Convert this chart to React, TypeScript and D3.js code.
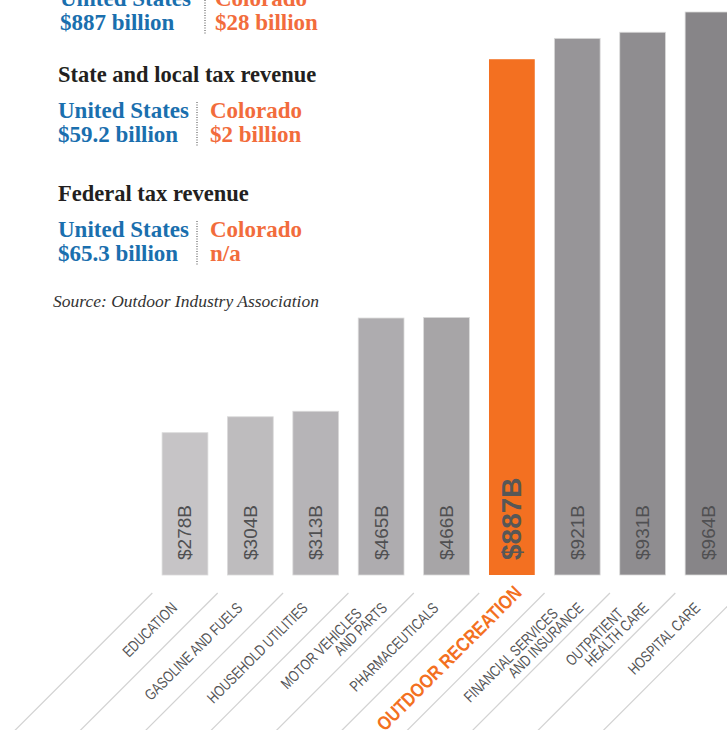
import React from "react";
import * as d3 from "d3";

// ---- Data ----
const categories = [
  "EDUCATION",
  "GASOLINE AND FUELS",
  "HOUSEHOLD UTILITIES",
  "MOTOR VEHICLES|AND PARTS",
  "PHARMACEUTICALS",
  "OUTDOOR RECREATION",
  "FINANCIAL SERVICES|AND INSURANCE",
  "OUTPATIENT|HEALTH CARE",
  "HOSPITAL CARE",
];
const values = [278, 304, 313, 465, 466, 887, 921, 931, 964];
const valueLabels = ["$278B", "$304B", "$313B", "$465B", "$466B", "$887B", "$921B", "$931B", "$964B"];
const highlight = "OUTDOOR RECREATION";

const headings = ["", "State and local tax revenue", "Federal tax revenue"];
const usLabel = "United States";
const coLabel = "Colorado";
const usValues = ["$887 billion", "$59.2 billion", "$65.3 billion"];
const coValues = ["$28 billion", "$2 billion", "n/a"];
const sourceText = "Source: Outdoor Industry Association";

const W = 727;
const H = 730;

export default function App() {
  const x = d3
    .scaleBand<string>()
    .domain(categories)
    .range([152.3, 740.7])
    .paddingInner(0.3)
    .paddingOuter(0.15);
  const y = d3.scaleLinear().domain([46, 964]).range([575, 12]);
  const grayIdx = d3.scaleLinear().domain([0, categories.length - 1]).range([0, 1]);
  const gray = d3.interpolateRgb("#c6c4c6", "#878588");

  const step = x.step();
  const boundaries = categories.map((c) => (x(c) as number) - step * 0.15);
  boundaries.push((x(categories[categories.length - 1]) as number) + step * 0.85);

  const serif = "'Liberation Serif', 'Times New Roman', serif";
  const sans = "'Liberation Sans', Arial, Helvetica, sans-serif";

  const blue = "#1a6fae";
  const orange = "#f26c3c";

  return (
    <svg width={W} height={H} style={{ position: "absolute", left: 0, top: 0, background: "#fff" }}>
      {/* diagonal separators */}
      {boundaries.map((b, i) => (
        <line key={"d" + i} x1={b} y1={593} x2={b - 160} y2={753} stroke="#d2d2d2" strokeWidth={1.2} />
      ))}

      {/* bars */}
      {categories.map((c, i) => {
        const isH = c === highlight;
        return (
          <rect
            key={"b" + i}
            x={x(c)}
            y={y(values[i])}
            width={x.bandwidth()}
            height={y(46) - y(values[i])}
            fill={isH ? "#f37021" : gray(grayIdx(i))}
            stroke={isH ? "none" : "#dadada"}
            strokeWidth={0.8}
          />
        );
      })}

      {/* value labels */}
      {categories.map((c, i) => {
        const isH = c === highlight;
        const cx = (x(c) as number) + x.bandwidth() / 2;
        return (
          <text
            key={"v" + i}
            transform={`translate(${cx},560) rotate(-90)`}
            textAnchor="start"
            dominantBaseline="central"
            fontFamily={sans}
            fontSize={isH ? 28 : 19}
            fontWeight={isH ? "bold" : "normal"}
            fill={isH ? "#575757" : "#505052"}
          >
            {valueLabels[i]}
          </text>
        );
      })}

      {/* category labels */}
      {categories.map((c, i) => {
        const isH = c === highlight;
        const cx = (x(c) as number) + x.bandwidth() / 2;
        const lines = c.split("|");
        const n = lines.length;
        const ax = isH ? cx + 11 : n > 1 ? cx + 7 : cx - 7;
        const ay = isH ? 594 : 609;
        return (
          <g key={"l" + i} transform={`translate(${ax},${ay}) rotate(-45)`}>
            {lines.map((ln, j) => {
              const k = n - 1 - j;
              return (
                <text
                  key={j}
                  transform={`translate(${-22 * k},${-14 * k}) scale(${isH ? 0.84 : 0.77},1)`}
                  textAnchor="end"
                  fontFamily={sans}
                  fontSize={isH ? 19.5 : 15.5}
                  fontWeight={isH ? "bold" : "normal"}
                  fill={isH ? "#f37021" : "#545456"}
                >
                  {ln}
                </text>
              );
            })}
          </g>
        );
      })}

      {/* top-left text blocks */}
      {headings.map((h, g) => {
        const l1 = g === 0 ? 6 : 118 + (g - 1) * 119;
        const hb = l1 - 36;
        const l2 = l1 + 24;
        const usX = g === 0 ? 60 : 58;
        const sepX = g === 0 ? 205 : 197;
        const coX = g === 0 ? 215 : 210;
        return (
          <g key={"g" + g}>
            {h && (
              <text x={58} y={hb} fontFamily={serif} fontWeight="bold" fontSize={22.5} fill="#231f20">
                {h}
              </text>
            )}
            <text x={usX} y={l1} fontFamily={serif} fontWeight="bold" fontSize={23} fill={blue}>
              {usLabel}
            </text>
            <text x={usX} y={l2} fontFamily={serif} fontWeight="bold" fontSize={23} fill={blue}>
              {usValues[g]}
            </text>
            <line
              x1={sepX}
              x2={sepX}
              y1={l1 - 16}
              y2={l2 + 4}
              stroke="#444"
              strokeWidth={1}
              strokeDasharray="1 1.5"
            />
            <text x={coX} y={l1} fontFamily={serif} fontWeight="bold" fontSize={23} fill={orange}>
              {coLabel}
            </text>
            <text x={coX} y={l2} fontFamily={serif} fontWeight="bold" fontSize={23} fill={orange}>
              {coValues[g]}
            </text>
          </g>
        );
      })}

      <text x={53} y={307} fontFamily={serif} fontStyle="italic" fontSize={17.5} fill="#333">
        {sourceText}
      </text>
    </svg>
  );
}
